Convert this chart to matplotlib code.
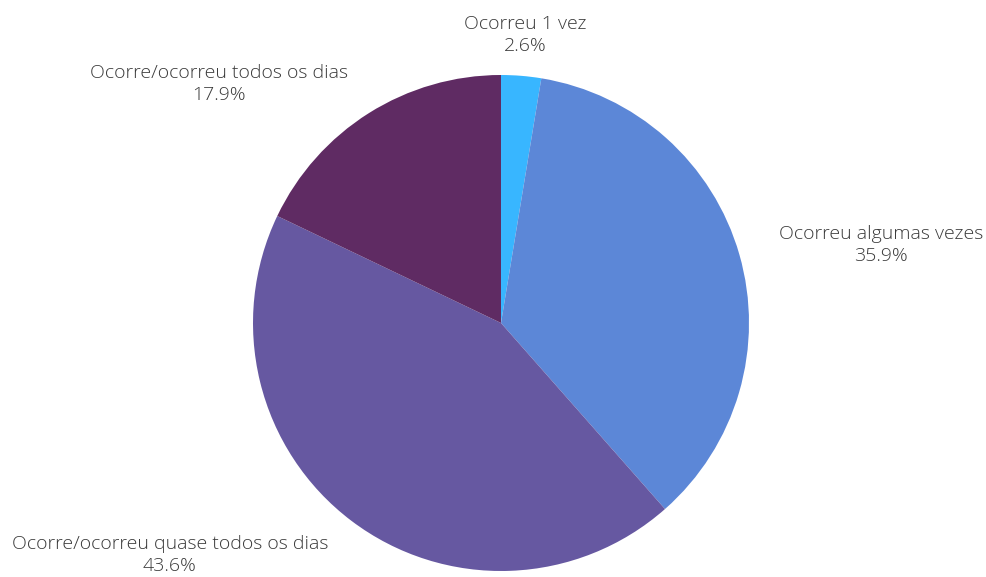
import matplotlib.pyplot as plt

# Dados
categorias = ["Ocorreu 1 vez", "Ocorreu algumas vezes",
              "Ocorre/ocorreu quase todos os dias", "Ocorre/ocorreu todos os dias"]
valores = [2.6, 35.9, 43.6, 17.9]
cores = ["#38B6FF", "#5C87D7", "#6658A1", "#5F2B63"]

W, H = 987, 577
fig = plt.figure(figsize=(W / 100, H / 100), dpi=100)

# Eixo do grafico de pizza (centro ~ (501, 323), raio ~248 px)
cx, cy, r = 501, 323, 248
ax = fig.add_axes([(cx - r) / W, (H - cy - r) / H, 2 * r / W, 2 * r / H])
ax.pie(valores, colors=cores, startangle=90, counterclock=False, radius=1,
       wedgeprops=dict(linewidth=0))
ax.set_xlim(-1, 1)
ax.set_ylim(-1, 1)
ax.set_aspect("equal")
ax.axis("off")

# Rotulos
posicoes = [(525, 35), (881, 245), (170, 555), (219, 84)]
for cat, val, (px, py) in zip(categorias, valores, posicoes):
    fig.text(px / W, 1 - py / H, f"{cat}\n{val:.1f}%", ha="center", va="center",
             fontsize=14, family="Open Sans", fontweight="light", color="#3a3a3a",
             linespacing=1.35)

fig.savefig("out.png", dpi=100, facecolor="white")
